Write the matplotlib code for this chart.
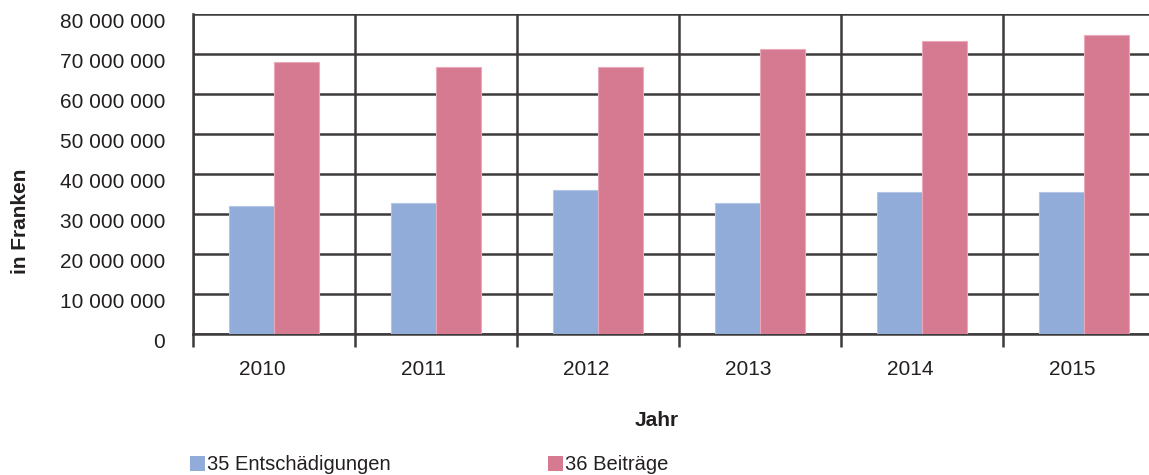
import matplotlib
matplotlib.use("Agg")
import matplotlib.pyplot as plt
import matplotlib.transforms as mtransforms
import numpy as np
from matplotlib.patches import Rectangle

plt.rcParams['font.family'] = ['Liberation Sans', 'DejaVu Sans']

years = ["2010", "2011", "2012", "2013", "2014", "2015"]
entschaedigungen = [32.0e6, 32.7e6, 36.0e6, 32.7e6, 35.5e6, 35.5e6]
beitraege = [68.0e6, 66.8e6, 66.8e6, 71.3e6, 73.3e6, 74.7e6]
series_names = ["35 Entschädigungen", "36 Beiträge"]
yticks = [0, 10e6, 20e6, 30e6, 40e6, 50e6, 60e6, 70e6, 80e6]

blue = "#91acd8"
pink = "#d67a91"
gridc = "#3d3a3b"
textc = "#231f20"

W, H = 1149, 475
fig = plt.figure(figsize=(W/100, H/100), dpi=100)
ax = fig.add_axes([193/W, (H-334)/H, 972/W, 320/H])

x = np.arange(len(years))
bw = 0.278
ax.bar(x - bw/2, entschaedigungen, bw, color=blue, edgecolor="#b4c6e6", linewidth=0.8, zorder=3)
ax.bar(x + bw/2, beitraege, bw, color=pink, edgecolor="#eaa9b9", linewidth=0.8, zorder=3)

ax.set_xlim(-0.5, len(years) - 0.5)
ax.set_ylim(0, 80e6)
ax.set_yticks(yticks)
ax.set_yticklabels(["{:,}".format(int(v)).replace(",", " ") for v in yticks])
ax.set_xticks(x)
ax.set_xticklabels(years)
ax.set_xticks(np.arange(len(years)) - 0.5, minor=True)

ax.yaxis.grid(True, color=gridc, linewidth=1.8, zorder=1)
ax.xaxis.grid(True, which='minor', color=gridc, linewidth=1.8, zorder=1)
ax.set_axisbelow(True)

ax.tick_params(axis='y', length=0, pad=20, labelsize=15, labelcolor=textc)
ax.tick_params(axis='x', which='major', length=0, pad=19, labelsize=15, labelcolor=textc)
ax.tick_params(axis='x', which='minor', length=9, width=1.8, color=gridc)

# small label offsets as in the reference
for lab in ax.get_yticklabels():
    lab.set_transform(lab.get_transform() + mtransforms.ScaledTranslation(0, -0.06, fig.dpi_scale_trans))
for lab in ax.get_xticklabels():
    lab.set_transform(lab.get_transform() + mtransforms.ScaledTranslation(-0.12, 0, fig.dpi_scale_trans))

for s in ['top', 'right']:
    ax.spines[s].set_visible(False)
for s in ['left', 'bottom']:
    ax.spines[s].set_color(gridc)
    ax.spines[s].set_linewidth(1.8)

fig.text(21/W, 1 - 221/H, "in Franken", rotation=90, ha='center', va='center',
         fontsize=15, fontweight='bold', color=textc)
fig.text(657/W, 1 - 420/H, "Jahr", ha='center', va='center',
         fontsize=15, fontweight='bold', color=textc)

# legend
for (sx, col, name) in [(190, blue, series_names[0]), (548, pink, series_names[1])]:
    fig.patches.append(Rectangle((sx/W, 1 - 471/H), 15/W, 15/H, transform=fig.transFigure,
                                 facecolor=col, edgecolor='none'))
    fig.text((sx + 17)/W, 1 - 464/H, name, ha='left', va='center', fontsize=14.5, color=textc)

fig.savefig("out.png", dpi=100)
